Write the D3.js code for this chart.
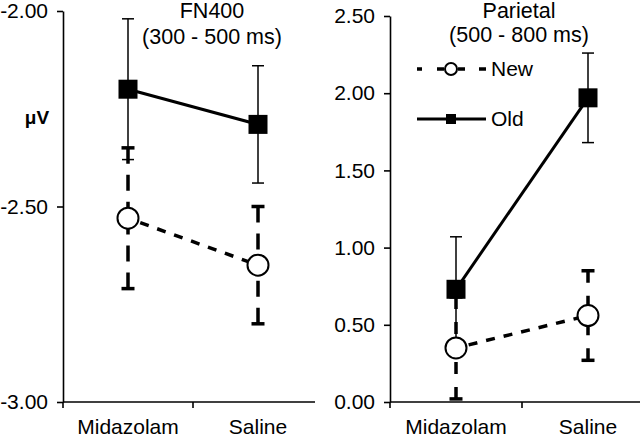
<!DOCTYPE html>
<html><head><meta charset="utf-8">
<script src="https://cdn.jsdelivr.net/npm/d3@7"></script>
<style>body{margin:0;background:#fff}svg{display:block}text{font-family:"Liberation Sans",Arial,sans-serif;fill:#000}</style>
</head><body><svg id="c" width="640" height="437"></svg>
<script>
const categories = ["Midazolam", "Saline"];
const seriesNames = ["New", "Old"];
// FN400 panel
const fnNew = [-2.53, -2.65];
const fnNewErr = [0.18, 0.15];
const fnOld = [-2.20, -2.29];
const fnOldErr = [0.18, 0.15];
const fnTicks = [-2.00, -2.50, -3.00];
// Parietal panel
const parNew = [0.35, 0.56];
const parNewErr = [0.33, 0.29];
const parOld = [0.73, 1.97];
const parOldErr = [0.34, 0.29];
const parTicks = [0.00, 0.50, 1.00, 1.50, 2.00, 2.50];
const titles = [["FN400", "(300 - 500 ms)"], ["Parietal", "(500 - 800 ms)"]];

const svg = d3.select("#c");
const fmt = v => d3.format(".2f")(v).replace("\u2212", "-");

function panel(cfg) {
  const g = svg.append("g");
  const x = d3.scaleBand().domain(categories).range(cfg.xr);
  const y = d3.scaleLinear().domain(cfg.ydom).range(cfg.yr);
  const cx = c => x(c) + x.bandwidth() / 2;

  // y axis
  const ya = g.append("g").attr("transform", `translate(${cfg.xr[0]},0)`)
    .call(d3.axisLeft(y).tickValues(cfg.ticks).tickFormat(fmt).tickSizeOuter(0).tickSizeInner(6).tickPadding(9));
  ya.select(".domain").attr("stroke-width", 1.6);
  ya.selectAll(".tick line").attr("stroke-width", 1.6);
  ya.selectAll("text").style("font-size", "21px").attr("fill", "#000");

  // x axis
  const xg = g.append("g").attr("transform", `translate(0,${cfg.yr[0]})`);
  xg.append("line").attr("x1", cfg.xr[0]).attr("x2", cfg.xEnd).attr("stroke", "#000").attr("stroke-width", 1.6);
  const bounds = [x(categories[0]), x(categories[1])];
  xg.selectAll("line.t").data(bounds).join("line").attr("class", "t")
    .attr("x1", d => d).attr("x2", d => d).attr("y1", 0).attr("y2", 6)
    .attr("stroke", "#000").attr("stroke-width", 1.6);
  xg.selectAll("text").data(categories).join("text")
    .attr("x", d => cx(d)).attr("y", 32).attr("text-anchor", "middle")
    .style("font-size", "21px").text(d => d);

  // titles
  g.selectAll("text.title").data(cfg.title).join("text").attr("class", "title")
    .attr("x", cfg.titleX).attr("y", (d, i) => cfg.titleY[i]).attr("text-anchor", "middle")
    .style("font-size", "21.5px").text(d => d);

  // error bars
  function errbars(vals, errs, thick, dash) {
    categories.forEach((c, i) => {
      const xc = cx(c), yc = y(vals[i]);
      [1, -1].forEach(s => {
        const yEnd = y(vals[i] + s * errs[i]);
        g.append("line").attr("x1", xc).attr("x2", xc).attr("y1", yEnd).attr("y2", yc)
          .attr("stroke", "#000").attr("stroke-width", thick ? 3.5 : 1.5)
          .attr("stroke-dasharray", dash || null);
        g.append("line").attr("x1", xc - (thick ? 6.5 : 6)).attr("x2", xc + (thick ? 6.5 : 6))
          .attr("y1", yEnd).attr("y2", yEnd).attr("stroke", "#000").attr("stroke-width", thick ? 3.5 : 1.5);
      });
    });
  }
  errbars(cfg.oldV, cfg.oldE, false, null);
  errbars(cfg.newV, cfg.newE, true, cfg.errDash);

  const line = d3.line().x((d, i) => cx(categories[i])).y(d => y(d));
  g.append("path").datum(cfg.newV).attr("d", line).attr("fill", "none").attr("stroke", "#000")
    .attr("stroke-width", 3.5).attr("stroke-dasharray", "9,9").attr("stroke-dashoffset", -13);
  g.append("path").datum(cfg.oldV).attr("d", line).attr("fill", "none").attr("stroke", "#000").attr("stroke-width", 3);

  g.selectAll("circle.n").data(cfg.newV).join("circle").attr("class", "n")
    .attr("cx", (d, i) => cx(categories[i])).attr("cy", d => y(d)).attr("r", 10.5)
    .attr("fill", "#fff").attr("stroke", "#000").attr("stroke-width", 2);
  const sz = 19;
  g.selectAll("rect.o").data(cfg.oldV).join("rect").attr("class", "o")
    .attr("x", (d, i) => cx(categories[i]) - sz / 2).attr("y", d => y(d) - sz / 2)
    .attr("width", sz).attr("height", sz).attr("fill", "#000");
  return g;
}

panel({xr: [63, 323], xEnd: 315, ydom: [-3, -2], yr: [402, 11], ticks: fnTicks,
  oldV: fnOld, oldE: fnOldErr, newV: fnNew, newE: fnNewErr, errDash: "16,11",
  title: titles[0], titleX: 212, titleY: [18, 44]});
panel({xr: [390, 654], xEnd: 640, ydom: [0, 2.5], yr: [402, 16], ticks: parTicks,
  oldV: parOld, oldE: parOldErr, newV: parNew, newE: parNewErr, errDash: "12,13",
  title: titles[1], titleX: 519, titleY: [18, 42]});

// y label
svg.append("text").attr("x", 37).attr("y", 124).attr("text-anchor", "middle")
  .style("font-size", "19px").style("font-weight", "bold").text("\u03bcV");

// legend
const leg = svg.append("g");
const legY = [69, 119];
leg.append("line").attr("x1", 417).attr("x2", 486).attr("y1", legY[0]).attr("y2", legY[0])
  .attr("stroke", "#000").attr("stroke-width", 3.5).attr("stroke-dasharray", "5,15,7,14,7,14,7");
leg.append("circle").attr("cx", 451).attr("cy", legY[0]).attr("r", 6).attr("fill", "#fff").attr("stroke", "#000").attr("stroke-width", 2);
leg.append("line").attr("x1", 417).attr("x2", 486).attr("y1", legY[1]).attr("y2", legY[1])
  .attr("stroke", "#000").attr("stroke-width", 3);
leg.append("rect").attr("x", 446).attr("y", legY[1] - 5).attr("width", 10).attr("height", 10).attr("fill", "#000");
leg.selectAll("text").data(seriesNames).join("text").attr("x", 491).attr("y", (d, i) => legY[i] + 7)
  .style("font-size", "21px").text(d => d);
</script></body></html>
